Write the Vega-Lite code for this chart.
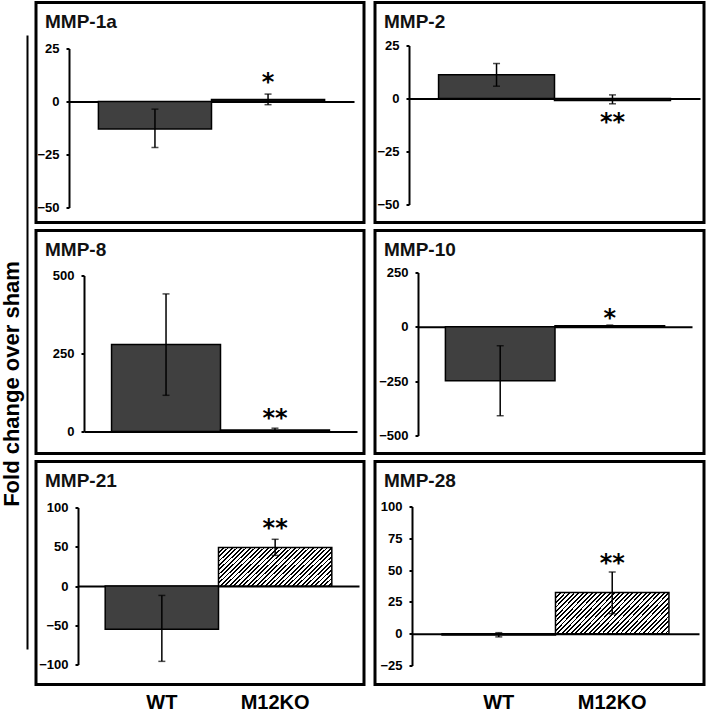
{
  "$schema": "https://vega.github.io/schema/vega-lite/v6.json",
  "padding": {"top": 0.5, "left": 0, "right": 0, "bottom": 0},
  "background": "white",
  "datasets": {
    "mmp": [
      {"gene": "MMP-1a", "group": "WT", "mean": -13, "lo": -21.7, "hi": -3.6, "sig": null, "sig_y": null},
      {"gene": "MMP-1a", "group": "M12KO", "mean": 1, "lo": -1.5, "hi": 3.5, "sig": "*", "sig_y": 11.4},
      {"gene": "MMP-2", "group": "WT", "mean": 11.2, "lo": 5.8, "hi": 16.5, "sig": null, "sig_y": null},
      {"gene": "MMP-2", "group": "M12KO", "mean": -1, "lo": -2.5, "hi": 1.7, "sig": "**", "sig_y": -8.7},
      {"gene": "MMP-8", "group": "WT", "mean": 279, "lo": 116, "hi": 441, "sig": null, "sig_y": null},
      {"gene": "MMP-8", "group": "M12KO", "mean": 5, "lo": 0, "hi": 10.6, "sig": "**", "sig_y": 58.8},
      {"gene": "MMP-10", "group": "WT", "mean": -248, "lo": -409, "hi": -87, "sig": null, "sig_y": null},
      {"gene": "MMP-10", "group": "M12KO", "mean": 5, "lo": 2, "hi": 8, "sig": "*", "sig_y": 65.7},
      {"gene": "MMP-21", "group": "WT", "mean": -55, "lo": -96, "hi": -12, "sig": null, "sig_y": null},
      {"gene": "MMP-21", "group": "M12KO", "mean": 49, "lo": 39, "hi": 59.5, "sig": "**", "sig_y": 80.8},
      {"gene": "MMP-28", "group": "WT", "mean": -1, "lo": -2.5, "hi": 0.8, "sig": null, "sig_y": null},
      {"gene": "MMP-28", "group": "M12KO", "mean": 32.3, "lo": 15.7, "hi": 48.5, "sig": "**", "sig_y": 59.5}
    ]
  },
  "spacing": 6,
  "hconcat": [
    {
      "width": 1,
      "height": 680,
      "view": {"stroke": null},
      "data": {"values": [{}]},
      "mark": {"type": "rule", "opacity": 0},
      "encoding": {
        "y": {
          "datum": 0,
          "type": "quantitative",
          "scale": {"domain": [0, 1], "range": [646.5, 32.5]},
          "axis": {
            "title": "Fold change over sham",
            "ticks": false,
            "labels": false,
            "domainWidth": 2,
            "titleFont": "Liberation Sans",
            "titleFontSize": 22,
            "titleFontWeight": "bold",
            "titleColor": "black",
            "titlePadding": 4,
            "titleY": 381
          }
        }
      }
    },
    {
      "spacing": 4,
      "vconcat": [
        {
          "spacing": 7,
          "hconcat": [
            {
              "title": "MMP-1a",
              "width": 328,
              "height": 220,
              "data": {"name": "mmp"},
              "transform": [{"filter": "datum.gene === 'MMP-1a'"}],
              "encoding": {
                "x": {"field": "group", "type": "nominal", "title": null, "scale": {"domain": ["WT", "M12KO"], "range": [33, 318], "paddingInner": 0, "paddingOuter": 0.26}, "axis": {"orient": "top", "offset": -99, "labels": false, "ticks": false}}
              },
              "layer": [
                {"transform": [{"filter": "datum.group === 'WT'"}], "mark": {"type": "bar", "fill": "#404040"},
                 "encoding": {"y": {"field": "mean", "type": "quantitative", "title": null, "scale": {"domain": [-50, 25], "range": [205, 46]}, "axis": {"offset": -33, "values": [25, 0, -25, -50]}}}},
                {"transform": [{"filter": "datum.group === 'M12KO'"}], "mark": {"type": "bar", "fill": "#111"},
                 "encoding": {"y": {"field": "mean", "type": "quantitative", "title": null, "scale": {"domain": [-50, 25], "range": [205, 46]}, "axis": {"offset": -33, "values": [25, 0, -25, -50]}}}},
                {"mark": "rule",
                 "encoding": {"y": {"field": "lo", "type": "quantitative", "title": null, "scale": {"domain": [-50, 25], "range": [205, 46]}, "axis": {"offset": -33, "values": [25, 0, -25, -50]}}, "y2": {"field": "hi"}}},
                {"mark": {"type": "tick", "size": 7},
                 "encoding": {"y": {"field": "lo", "type": "quantitative", "title": null, "scale": {"domain": [-50, 25], "range": [205, 46]}, "axis": {"offset": -33, "values": [25, 0, -25, -50]}}}},
                {"mark": {"type": "tick", "size": 7},
                 "encoding": {"y": {"field": "hi", "type": "quantitative", "title": null, "scale": {"domain": [-50, 25], "range": [205, 46]}, "axis": {"offset": -33, "values": [25, 0, -25, -50]}}}},
                {"transform": [{"filter": "datum.sig"}], "mark": "text",
                 "encoding": {"y": {"field": "sig_y", "type": "quantitative", "title": null, "scale": {"domain": [-50, 25], "range": [205, 46]}, "axis": {"offset": -33, "values": [25, 0, -25, -50]}}, "text": {"field": "sig"}}}
              ]
            },
            {
              "title": "MMP-2",
              "width": 329,
              "height": 220,
              "data": {"name": "mmp"},
              "transform": [{"filter": "datum.gene === 'MMP-2'"}],
              "encoding": {
                "x": {"field": "group", "type": "nominal", "title": null, "scale": {"domain": ["WT", "M12KO"], "range": [34, 325], "paddingInner": 0, "paddingOuter": 0.255}, "axis": {"orient": "top", "offset": -96, "labels": false, "ticks": false}}
              },
              "layer": [
                {"transform": [{"filter": "datum.group === 'WT'"}], "mark": {"type": "bar", "fill": "#404040"},
                 "encoding": {"y": {"field": "mean", "type": "quantitative", "title": null, "scale": {"domain": [-50, 25], "range": [202, 43]}, "axis": {"offset": -34, "values": [25, 0, -25, -50]}}}},
                {"transform": [{"filter": "datum.group === 'M12KO'"}], "mark": {"type": "bar", "fill": "#111"},
                 "encoding": {"y": {"field": "mean", "type": "quantitative", "title": null, "scale": {"domain": [-50, 25], "range": [202, 43]}, "axis": {"offset": -34, "values": [25, 0, -25, -50]}}}},
                {"mark": "rule",
                 "encoding": {"y": {"field": "lo", "type": "quantitative", "title": null, "scale": {"domain": [-50, 25], "range": [202, 43]}, "axis": {"offset": -34, "values": [25, 0, -25, -50]}}, "y2": {"field": "hi"}}},
                {"mark": {"type": "tick", "size": 7},
                 "encoding": {"y": {"field": "lo", "type": "quantitative", "title": null, "scale": {"domain": [-50, 25], "range": [202, 43]}, "axis": {"offset": -34, "values": [25, 0, -25, -50]}}}},
                {"mark": {"type": "tick", "size": 7},
                 "encoding": {"y": {"field": "hi", "type": "quantitative", "title": null, "scale": {"domain": [-50, 25], "range": [202, 43]}, "axis": {"offset": -34, "values": [25, 0, -25, -50]}}}},
                {"transform": [{"filter": "datum.sig"}], "mark": "text",
                 "encoding": {"y": {"field": "sig_y", "type": "quantitative", "title": null, "scale": {"domain": [-50, 25], "range": [202, 43]}, "axis": {"offset": -34, "values": [25, 0, -25, -50]}}, "text": {"field": "sig"}}}
              ]
            }
          ]
        },
        {
          "spacing": 7,
          "hconcat": [
            {
              "title": "MMP-8",
              "width": 328,
              "height": 223,
              "data": {"name": "mmp"},
              "transform": [{"filter": "datum.gene === 'MMP-8'"}],
              "encoding": {
                "x": {"field": "group", "type": "nominal", "title": null, "scale": {"domain": ["WT", "M12KO"], "range": [48, 321], "paddingInner": 0, "paddingOuter": 0.253}, "axis": {"orient": "top", "offset": -201, "labels": false, "ticks": false}}
              },
              "layer": [
                {"transform": [{"filter": "datum.group === 'WT'"}], "mark": {"type": "bar", "fill": "#404040"},
                 "encoding": {"y": {"field": "mean", "type": "quantitative", "title": null, "scale": {"domain": [0, 500], "range": [201, 45]}, "axis": {"offset": -48, "values": [500, 250, 0]}}}},
                {"transform": [{"filter": "datum.group === 'M12KO'"}], "mark": {"type": "bar", "fill": "#111"},
                 "encoding": {"y": {"field": "mean", "type": "quantitative", "title": null, "scale": {"domain": [0, 500], "range": [201, 45]}, "axis": {"offset": -48, "values": [500, 250, 0]}}}},
                {"mark": "rule",
                 "encoding": {"y": {"field": "lo", "type": "quantitative", "title": null, "scale": {"domain": [0, 500], "range": [201, 45]}, "axis": {"offset": -48, "values": [500, 250, 0]}}, "y2": {"field": "hi"}}},
                {"mark": {"type": "tick", "size": 7},
                 "encoding": {"y": {"field": "lo", "type": "quantitative", "title": null, "scale": {"domain": [0, 500], "range": [201, 45]}, "axis": {"offset": -48, "values": [500, 250, 0]}}}},
                {"mark": {"type": "tick", "size": 7},
                 "encoding": {"y": {"field": "hi", "type": "quantitative", "title": null, "scale": {"domain": [0, 500], "range": [201, 45]}, "axis": {"offset": -48, "values": [500, 250, 0]}}}},
                {"transform": [{"filter": "datum.sig"}], "mark": "text",
                 "encoding": {"y": {"field": "sig_y", "type": "quantitative", "title": null, "scale": {"domain": [0, 500], "range": [201, 45]}, "axis": {"offset": -48, "values": [500, 250, 0]}}, "text": {"field": "sig"}}}
              ]
            },
            {
              "title": "MMP-10",
              "width": 329,
              "height": 223,
              "data": {"name": "mmp"},
              "transform": [{"filter": "datum.gene === 'MMP-10'"}],
              "encoding": {
                "x": {"field": "group", "type": "nominal", "title": null, "scale": {"domain": ["WT", "M12KO"], "range": [43, 317], "paddingInner": 0, "paddingOuter": 0.25}, "axis": {"orient": "top", "offset": -96.3, "labels": false, "ticks": false}}
              },
              "layer": [
                {"transform": [{"filter": "datum.group === 'WT'"}], "mark": {"type": "bar", "fill": "#404040"},
                 "encoding": {"y": {"field": "mean", "type": "quantitative", "title": null, "scale": {"domain": [-500, 250], "range": [205, 42]}, "axis": {"offset": -43, "values": [250, 0, -250, -500]}}}},
                {"transform": [{"filter": "datum.group === 'M12KO'"}], "mark": {"type": "bar", "fill": "#111"},
                 "encoding": {"y": {"field": "mean", "type": "quantitative", "title": null, "scale": {"domain": [-500, 250], "range": [205, 42]}, "axis": {"offset": -43, "values": [250, 0, -250, -500]}}}},
                {"mark": "rule",
                 "encoding": {"y": {"field": "lo", "type": "quantitative", "title": null, "scale": {"domain": [-500, 250], "range": [205, 42]}, "axis": {"offset": -43, "values": [250, 0, -250, -500]}}, "y2": {"field": "hi"}}},
                {"mark": {"type": "tick", "size": 7},
                 "encoding": {"y": {"field": "lo", "type": "quantitative", "title": null, "scale": {"domain": [-500, 250], "range": [205, 42]}, "axis": {"offset": -43, "values": [250, 0, -250, -500]}}}},
                {"mark": {"type": "tick", "size": 7},
                 "encoding": {"y": {"field": "hi", "type": "quantitative", "title": null, "scale": {"domain": [-500, 250], "range": [205, 42]}, "axis": {"offset": -43, "values": [250, 0, -250, -500]}}}},
                {"transform": [{"filter": "datum.sig"}], "mark": "text",
                 "encoding": {"y": {"field": "sig_y", "type": "quantitative", "title": null, "scale": {"domain": [-500, 250], "range": [205, 42]}, "axis": {"offset": -43, "values": [250, 0, -250, -500]}}, "text": {"field": "sig"}}}
              ]
            }
          ]
        },
        {
          "spacing": 7,
          "hconcat": [
            {
              "title": "MMP-21",
              "width": 328,
              "height": 223,
              "data": {"name": "mmp"},
              "transform": [{"filter": "datum.gene === 'MMP-21'"}],
              "resolve": {"axis": {"x": "independent"}},
              "layer": [
                {"transform": [{"filter": "datum.group === 'WT'"}], "mark": {"type": "bar", "fill": "#404040"},
                 "encoding": {
                   "x": {"field": "group", "type": "nominal", "title": null, "scale": {"domain": ["WT", "M12KO"], "range": [42, 323], "paddingInner": 0, "paddingOuter": 0.24}, "axis": {"orient": "top", "offset": -124.5, "labels": false, "ticks": false}},
                   "y": {"field": "mean", "type": "quantitative", "title": null, "scale": {"domain": [-100, 100], "range": [203, 46]}, "axis": {"offset": -42, "values": [100, 50, 0, -50, -100]}}}},
                {"transform": [{"filter": "datum.group === 'M12KO'"}],
                 "mark": {"type": "bar", "fill": {"gradient": "linear", "x1": 0, "y1": 0, "x2": 1.203, "y2": 0.422, "stops": [
                   {"offset": 0, "color": "black"}, {"offset": 0.0118, "color": "black"}, {"offset": 0.0118, "color": "white"}, {"offset": 0.0294, "color": "white"},
                   {"offset": 0.0294, "color": "black"}, {"offset": 0.0412, "color": "black"}, {"offset": 0.0412, "color": "white"}, {"offset": 0.0588, "color": "white"},
                   {"offset": 0.0588, "color": "black"}, {"offset": 0.0706, "color": "black"}, {"offset": 0.0706, "color": "white"}, {"offset": 0.0882, "color": "white"},
                   {"offset": 0.0882, "color": "black"}, {"offset": 0.1, "color": "black"}, {"offset": 0.1, "color": "white"}, {"offset": 0.1176, "color": "white"},
                   {"offset": 0.1176, "color": "black"}, {"offset": 0.1294, "color": "black"}, {"offset": 0.1294, "color": "white"}, {"offset": 0.1471, "color": "white"},
                   {"offset": 0.1471, "color": "black"}, {"offset": 0.1589, "color": "black"}, {"offset": 0.1589, "color": "white"}, {"offset": 0.1765, "color": "white"},
                   {"offset": 0.1765, "color": "black"}, {"offset": 0.1883, "color": "black"}, {"offset": 0.1883, "color": "white"}, {"offset": 0.2059, "color": "white"},
                   {"offset": 0.2059, "color": "black"}, {"offset": 0.2177, "color": "black"}, {"offset": 0.2177, "color": "white"}, {"offset": 0.2353, "color": "white"},
                   {"offset": 0.2353, "color": "black"}, {"offset": 0.2471, "color": "black"}, {"offset": 0.2471, "color": "white"}, {"offset": 0.2647, "color": "white"},
                   {"offset": 0.2647, "color": "black"}, {"offset": 0.2765, "color": "black"}, {"offset": 0.2765, "color": "white"}, {"offset": 0.2941, "color": "white"},
                   {"offset": 0.2941, "color": "black"}, {"offset": 0.3059, "color": "black"}, {"offset": 0.3059, "color": "white"}, {"offset": 0.3235, "color": "white"},
                   {"offset": 0.3235, "color": "black"}, {"offset": 0.3353, "color": "black"}, {"offset": 0.3353, "color": "white"}, {"offset": 0.3529, "color": "white"},
                   {"offset": 0.3529, "color": "black"}, {"offset": 0.3647, "color": "black"}, {"offset": 0.3647, "color": "white"}, {"offset": 0.3824, "color": "white"},
                   {"offset": 0.3824, "color": "black"}, {"offset": 0.3942, "color": "black"}, {"offset": 0.3942, "color": "white"}, {"offset": 0.4118, "color": "white"},
                   {"offset": 0.4118, "color": "black"}, {"offset": 0.4236, "color": "black"}, {"offset": 0.4236, "color": "white"}, {"offset": 0.4412, "color": "white"},
                   {"offset": 0.4412, "color": "black"}, {"offset": 0.453, "color": "black"}, {"offset": 0.453, "color": "white"}, {"offset": 0.4706, "color": "white"},
                   {"offset": 0.4706, "color": "black"}, {"offset": 0.4824, "color": "black"}, {"offset": 0.4824, "color": "white"}, {"offset": 0.5, "color": "white"},
                   {"offset": 0.5, "color": "black"}, {"offset": 0.5118, "color": "black"}, {"offset": 0.5118, "color": "white"}, {"offset": 0.5294, "color": "white"},
                   {"offset": 0.5294, "color": "black"}, {"offset": 0.5412, "color": "black"}, {"offset": 0.5412, "color": "white"}, {"offset": 0.5588, "color": "white"},
                   {"offset": 0.5588, "color": "black"}, {"offset": 0.5706, "color": "black"}, {"offset": 0.5706, "color": "white"}, {"offset": 0.5882, "color": "white"},
                   {"offset": 0.5882, "color": "black"}, {"offset": 0.6, "color": "black"}, {"offset": 0.6, "color": "white"}, {"offset": 0.6176, "color": "white"},
                   {"offset": 0.6176, "color": "black"}, {"offset": 0.6294, "color": "black"}, {"offset": 0.6294, "color": "white"}, {"offset": 0.6471, "color": "white"},
                   {"offset": 0.6471, "color": "black"}, {"offset": 0.6589, "color": "black"}, {"offset": 0.6589, "color": "white"}, {"offset": 0.6765, "color": "white"},
                   {"offset": 0.6765, "color": "black"}, {"offset": 0.6883, "color": "black"}, {"offset": 0.6883, "color": "white"}, {"offset": 0.7059, "color": "white"},
                   {"offset": 0.7059, "color": "black"}, {"offset": 0.7177, "color": "black"}, {"offset": 0.7177, "color": "white"}, {"offset": 0.7353, "color": "white"},
                   {"offset": 0.7353, "color": "black"}, {"offset": 0.7471, "color": "black"}, {"offset": 0.7471, "color": "white"}, {"offset": 0.7647, "color": "white"},
                   {"offset": 0.7647, "color": "black"}, {"offset": 0.7765, "color": "black"}, {"offset": 0.7765, "color": "white"}, {"offset": 0.7941, "color": "white"},
                   {"offset": 0.7941, "color": "black"}, {"offset": 0.8059, "color": "black"}, {"offset": 0.8059, "color": "white"}, {"offset": 0.8235, "color": "white"},
                   {"offset": 0.8235, "color": "black"}, {"offset": 0.8353, "color": "black"}, {"offset": 0.8353, "color": "white"}, {"offset": 0.8529, "color": "white"},
                   {"offset": 0.8529, "color": "black"}, {"offset": 0.8647, "color": "black"}, {"offset": 0.8647, "color": "white"}, {"offset": 0.8824, "color": "white"},
                   {"offset": 0.8824, "color": "black"}, {"offset": 0.8942, "color": "black"}, {"offset": 0.8942, "color": "white"}, {"offset": 0.9118, "color": "white"},
                   {"offset": 0.9118, "color": "black"}, {"offset": 0.9236, "color": "black"}, {"offset": 0.9236, "color": "white"}, {"offset": 0.9412, "color": "white"},
                   {"offset": 0.9412, "color": "black"}, {"offset": 0.953, "color": "black"}, {"offset": 0.953, "color": "white"}, {"offset": 0.9706, "color": "white"},
                   {"offset": 0.9706, "color": "black"}, {"offset": 0.9824, "color": "black"}, {"offset": 0.9824, "color": "white"}, {"offset": 1, "color": "white"}
                 ]}},
                 "encoding": {
                   "x": {"field": "group", "type": "nominal", "title": null, "scale": {"domain": ["WT", "M12KO"], "range": [42, 323], "paddingInner": 0, "paddingOuter": 0.24}, "axis": null},
                   "y": {"field": "mean", "type": "quantitative", "title": null, "scale": {"domain": [-100, 100], "range": [203, 46]}, "axis": {"offset": -42, "values": [100, 50, 0, -50, -100]}}}},
                {"mark": "rule",
                 "encoding": {
                   "x": {"field": "group", "type": "nominal", "title": null, "scale": {"domain": ["WT", "M12KO"], "range": [42, 323], "paddingInner": 0, "paddingOuter": 0.24}, "axis": null},
                   "y": {"field": "lo", "type": "quantitative", "title": null, "scale": {"domain": [-100, 100], "range": [203, 46]}, "axis": {"offset": -42, "values": [100, 50, 0, -50, -100]}}, "y2": {"field": "hi"}}},
                {"mark": {"type": "tick", "size": 7},
                 "encoding": {
                   "x": {"field": "group", "type": "nominal", "title": null, "scale": {"domain": ["WT", "M12KO"], "range": [42, 323], "paddingInner": 0, "paddingOuter": 0.24}, "axis": null},
                   "y": {"field": "lo", "type": "quantitative", "title": null, "scale": {"domain": [-100, 100], "range": [203, 46]}, "axis": {"offset": -42, "values": [100, 50, 0, -50, -100]}}}},
                {"mark": {"type": "tick", "size": 7},
                 "encoding": {
                   "x": {"field": "group", "type": "nominal", "title": null, "scale": {"domain": ["WT", "M12KO"], "range": [42, 323], "paddingInner": 0, "paddingOuter": 0.24}, "axis": null},
                   "y": {"field": "hi", "type": "quantitative", "title": null, "scale": {"domain": [-100, 100], "range": [203, 46]}, "axis": {"offset": -42, "values": [100, 50, 0, -50, -100]}}}},
                {"transform": [{"filter": "datum.sig"}], "mark": "text",
                 "encoding": {
                   "x": {"field": "group", "type": "nominal", "title": null, "scale": {"domain": ["WT", "M12KO"], "range": [42, 323], "paddingInner": 0, "paddingOuter": 0.24}, "axis": {"orient": "bottom", "domain": false, "ticks": false, "tickSize": 0, "labelFontSize": 20, "labelBaseline": "alphabetic", "labelPadding": 24, "labelAngle": 0}},
                   "y": {"field": "sig_y", "type": "quantitative", "title": null, "scale": {"domain": [-100, 100], "range": [203, 46]}, "axis": {"offset": -42, "values": [100, 50, 0, -50, -100]}}, "text": {"field": "sig"}}}
              ]
            },
            {
              "title": "MMP-28",
              "width": 329,
              "height": 223,
              "data": {"name": "mmp"},
              "transform": [{"filter": "datum.gene === 'MMP-28'"}],
              "resolve": {"axis": {"x": "independent"}},
              "layer": [
                {"transform": [{"filter": "datum.group === 'WT'"}], "mark": {"type": "bar", "fill": "#404040"},
                 "encoding": {
                   "x": {"field": "group", "type": "nominal", "title": null, "scale": {"domain": ["WT", "M12KO"], "range": [37, 324], "paddingInner": 0, "paddingOuter": 0.265}, "axis": {"orient": "top", "offset": -172.2, "labels": false, "ticks": false}},
                   "y": {"field": "mean", "type": "quantitative", "title": null, "scale": {"domain": [-25, 100], "range": [204, 45]}, "axis": {"offset": -37, "values": [100, 75, 50, 25, 0, -25]}}}},
                {"transform": [{"filter": "datum.group === 'M12KO'"}],
                 "mark": {"type": "bar", "fill": {"gradient": "linear", "x1": 0, "y1": 0, "x2": 1.203, "y2": 0.422, "stops": [
                   {"offset": 0, "color": "black"}, {"offset": 0.0118, "color": "black"}, {"offset": 0.0118, "color": "white"}, {"offset": 0.0294, "color": "white"},
                   {"offset": 0.0294, "color": "black"}, {"offset": 0.0412, "color": "black"}, {"offset": 0.0412, "color": "white"}, {"offset": 0.0588, "color": "white"},
                   {"offset": 0.0588, "color": "black"}, {"offset": 0.0706, "color": "black"}, {"offset": 0.0706, "color": "white"}, {"offset": 0.0882, "color": "white"},
                   {"offset": 0.0882, "color": "black"}, {"offset": 0.1, "color": "black"}, {"offset": 0.1, "color": "white"}, {"offset": 0.1176, "color": "white"},
                   {"offset": 0.1176, "color": "black"}, {"offset": 0.1294, "color": "black"}, {"offset": 0.1294, "color": "white"}, {"offset": 0.1471, "color": "white"},
                   {"offset": 0.1471, "color": "black"}, {"offset": 0.1589, "color": "black"}, {"offset": 0.1589, "color": "white"}, {"offset": 0.1765, "color": "white"},
                   {"offset": 0.1765, "color": "black"}, {"offset": 0.1883, "color": "black"}, {"offset": 0.1883, "color": "white"}, {"offset": 0.2059, "color": "white"},
                   {"offset": 0.2059, "color": "black"}, {"offset": 0.2177, "color": "black"}, {"offset": 0.2177, "color": "white"}, {"offset": 0.2353, "color": "white"},
                   {"offset": 0.2353, "color": "black"}, {"offset": 0.2471, "color": "black"}, {"offset": 0.2471, "color": "white"}, {"offset": 0.2647, "color": "white"},
                   {"offset": 0.2647, "color": "black"}, {"offset": 0.2765, "color": "black"}, {"offset": 0.2765, "color": "white"}, {"offset": 0.2941, "color": "white"},
                   {"offset": 0.2941, "color": "black"}, {"offset": 0.3059, "color": "black"}, {"offset": 0.3059, "color": "white"}, {"offset": 0.3235, "color": "white"},
                   {"offset": 0.3235, "color": "black"}, {"offset": 0.3353, "color": "black"}, {"offset": 0.3353, "color": "white"}, {"offset": 0.3529, "color": "white"},
                   {"offset": 0.3529, "color": "black"}, {"offset": 0.3647, "color": "black"}, {"offset": 0.3647, "color": "white"}, {"offset": 0.3824, "color": "white"},
                   {"offset": 0.3824, "color": "black"}, {"offset": 0.3942, "color": "black"}, {"offset": 0.3942, "color": "white"}, {"offset": 0.4118, "color": "white"},
                   {"offset": 0.4118, "color": "black"}, {"offset": 0.4236, "color": "black"}, {"offset": 0.4236, "color": "white"}, {"offset": 0.4412, "color": "white"},
                   {"offset": 0.4412, "color": "black"}, {"offset": 0.453, "color": "black"}, {"offset": 0.453, "color": "white"}, {"offset": 0.4706, "color": "white"},
                   {"offset": 0.4706, "color": "black"}, {"offset": 0.4824, "color": "black"}, {"offset": 0.4824, "color": "white"}, {"offset": 0.5, "color": "white"},
                   {"offset": 0.5, "color": "black"}, {"offset": 0.5118, "color": "black"}, {"offset": 0.5118, "color": "white"}, {"offset": 0.5294, "color": "white"},
                   {"offset": 0.5294, "color": "black"}, {"offset": 0.5412, "color": "black"}, {"offset": 0.5412, "color": "white"}, {"offset": 0.5588, "color": "white"},
                   {"offset": 0.5588, "color": "black"}, {"offset": 0.5706, "color": "black"}, {"offset": 0.5706, "color": "white"}, {"offset": 0.5882, "color": "white"},
                   {"offset": 0.5882, "color": "black"}, {"offset": 0.6, "color": "black"}, {"offset": 0.6, "color": "white"}, {"offset": 0.6176, "color": "white"},
                   {"offset": 0.6176, "color": "black"}, {"offset": 0.6294, "color": "black"}, {"offset": 0.6294, "color": "white"}, {"offset": 0.6471, "color": "white"},
                   {"offset": 0.6471, "color": "black"}, {"offset": 0.6589, "color": "black"}, {"offset": 0.6589, "color": "white"}, {"offset": 0.6765, "color": "white"},
                   {"offset": 0.6765, "color": "black"}, {"offset": 0.6883, "color": "black"}, {"offset": 0.6883, "color": "white"}, {"offset": 0.7059, "color": "white"},
                   {"offset": 0.7059, "color": "black"}, {"offset": 0.7177, "color": "black"}, {"offset": 0.7177, "color": "white"}, {"offset": 0.7353, "color": "white"},
                   {"offset": 0.7353, "color": "black"}, {"offset": 0.7471, "color": "black"}, {"offset": 0.7471, "color": "white"}, {"offset": 0.7647, "color": "white"},
                   {"offset": 0.7647, "color": "black"}, {"offset": 0.7765, "color": "black"}, {"offset": 0.7765, "color": "white"}, {"offset": 0.7941, "color": "white"},
                   {"offset": 0.7941, "color": "black"}, {"offset": 0.8059, "color": "black"}, {"offset": 0.8059, "color": "white"}, {"offset": 0.8235, "color": "white"},
                   {"offset": 0.8235, "color": "black"}, {"offset": 0.8353, "color": "black"}, {"offset": 0.8353, "color": "white"}, {"offset": 0.8529, "color": "white"},
                   {"offset": 0.8529, "color": "black"}, {"offset": 0.8647, "color": "black"}, {"offset": 0.8647, "color": "white"}, {"offset": 0.8824, "color": "white"},
                   {"offset": 0.8824, "color": "black"}, {"offset": 0.8942, "color": "black"}, {"offset": 0.8942, "color": "white"}, {"offset": 0.9118, "color": "white"},
                   {"offset": 0.9118, "color": "black"}, {"offset": 0.9236, "color": "black"}, {"offset": 0.9236, "color": "white"}, {"offset": 0.9412, "color": "white"},
                   {"offset": 0.9412, "color": "black"}, {"offset": 0.953, "color": "black"}, {"offset": 0.953, "color": "white"}, {"offset": 0.9706, "color": "white"},
                   {"offset": 0.9706, "color": "black"}, {"offset": 0.9824, "color": "black"}, {"offset": 0.9824, "color": "white"}, {"offset": 1, "color": "white"}
                 ]}},
                 "encoding": {
                   "x": {"field": "group", "type": "nominal", "title": null, "scale": {"domain": ["WT", "M12KO"], "range": [37, 324], "paddingInner": 0, "paddingOuter": 0.265}, "axis": null},
                   "y": {"field": "mean", "type": "quantitative", "title": null, "scale": {"domain": [-25, 100], "range": [204, 45]}, "axis": {"offset": -37, "values": [100, 75, 50, 25, 0, -25]}}}},
                {"mark": "rule",
                 "encoding": {
                   "x": {"field": "group", "type": "nominal", "title": null, "scale": {"domain": ["WT", "M12KO"], "range": [37, 324], "paddingInner": 0, "paddingOuter": 0.265}, "axis": null},
                   "y": {"field": "lo", "type": "quantitative", "title": null, "scale": {"domain": [-25, 100], "range": [204, 45]}, "axis": {"offset": -37, "values": [100, 75, 50, 25, 0, -25]}}, "y2": {"field": "hi"}}},
                {"mark": {"type": "tick", "size": 7},
                 "encoding": {
                   "x": {"field": "group", "type": "nominal", "title": null, "scale": {"domain": ["WT", "M12KO"], "range": [37, 324], "paddingInner": 0, "paddingOuter": 0.265}, "axis": null},
                   "y": {"field": "lo", "type": "quantitative", "title": null, "scale": {"domain": [-25, 100], "range": [204, 45]}, "axis": {"offset": -37, "values": [100, 75, 50, 25, 0, -25]}}}},
                {"mark": {"type": "tick", "size": 7},
                 "encoding": {
                   "x": {"field": "group", "type": "nominal", "title": null, "scale": {"domain": ["WT", "M12KO"], "range": [37, 324], "paddingInner": 0, "paddingOuter": 0.265}, "axis": null},
                   "y": {"field": "hi", "type": "quantitative", "title": null, "scale": {"domain": [-25, 100], "range": [204, 45]}, "axis": {"offset": -37, "values": [100, 75, 50, 25, 0, -25]}}}},
                {"transform": [{"filter": "datum.sig"}], "mark": "text",
                 "encoding": {
                   "x": {"field": "group", "type": "nominal", "title": null, "scale": {"domain": ["WT", "M12KO"], "range": [37, 324], "paddingInner": 0, "paddingOuter": 0.265}, "axis": {"orient": "bottom", "domain": false, "ticks": false, "tickSize": 0, "labelFontSize": 20, "labelBaseline": "alphabetic", "labelPadding": 24, "labelAngle": 0}},
                   "y": {"field": "sig_y", "type": "quantitative", "title": null, "scale": {"domain": [-25, 100], "range": [204, 45]}, "axis": {"offset": -37, "values": [100, 75, 50, 25, 0, -25]}}, "text": {"field": "sig"}}}
              ]
            }
          ]
        }
      ]
    }
  ],
  "config": {
    "view": {"stroke": "black", "strokeWidth": 3},
    "title": {"anchor": "start", "frame": "group", "offset": -29, "dx": 9, "baseline": "alphabetic", "fontSize": 19, "font": "Liberation Sans", "fontWeight": "bold", "color": "#111"},
    "axis": {"grid": false, "tickSize": 3, "tickWidth": 2, "tickColor": "black", "domainColor": "black", "domainWidth": 2, "labelFont": "Liberation Sans", "labelFontSize": 13, "labelFontWeight": "bold", "labelColor": "black", "labelPadding": 7, "labelOverlap": false, "zindex": 1},
    "bar": {"stroke": "black", "strokeWidth": 1.5},
    "rule": {"color": "black", "strokeWidth": 1.5},
    "tick": {"color": "black", "thickness": 1.5},
    "text": {"font": "DejaVu Sans", "fontSize": 24, "fontWeight": "bold", "baseline": "alphabetic", "dy": 13, "color": "black", "align": "center"}
  }
}
